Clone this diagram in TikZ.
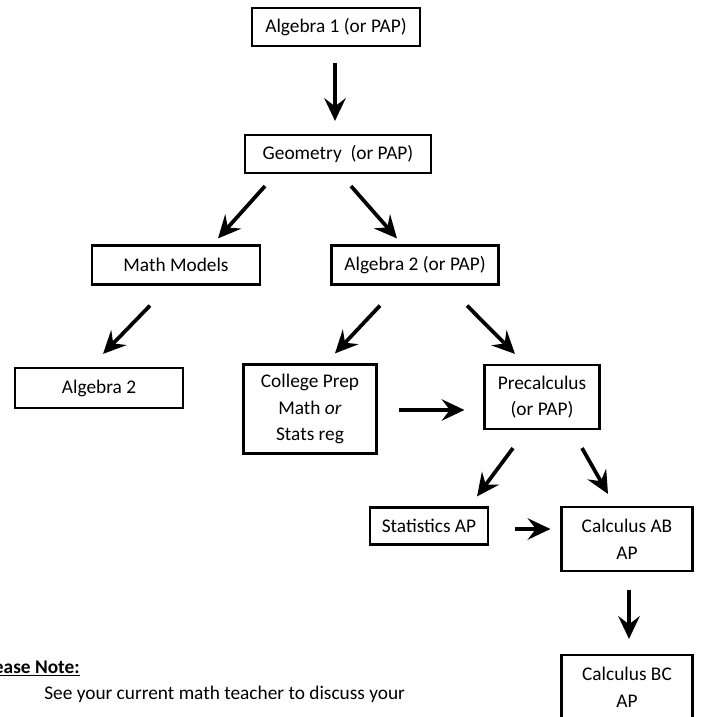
\documentclass[tikz,border=0pt]{standalone}
\usepackage{fontspec}
\setmainfont{Carlito}
\usetikzlibrary{arrows.meta,calc}
\tikzset{
  course/.style={draw,line width=1.6pt,align=center,inner sep=0pt,
    font=\fontsize{14.5}{20}\selectfont},
  flow/.style={line width=2.8pt,-{Stealth[length=17pt,width=16pt,inset=6pt]}},
}
\begin{document}
\begin{tikzpicture}[x=0.75pt,y=-0.75pt]
  \useasboundingbox (0,0) rectangle (700,717);
  % courses
  \node[course,minimum width=126pt,minimum height=28.5pt] (alg1) at (336,27) {Algebra 1 (or PAP)};
  \node[course,minimum width=139.5pt,minimum height=28.5pt] (geo) at (338,154) {Geometry\ \ (or PAP)};
  \node[course,minimum width=126pt,minimum height=29.25pt] (mm) at (176,265) {Math Models};
  \node[course,minimum width=125.25pt,minimum height=29.25pt] (alg2pap) at (415,265) {Algebra 2 (or PAP)};
  \node[course,minimum width=126pt,minimum height=30pt] (alg2) at (99,388) {Algebra 2};
  \node[course,minimum width=99.75pt,minimum height=66.75pt] (cprep) at (310,409) {College Prep\\Math \textit{or}\\Stats reg};
  \node[course,minimum width=86.25pt,minimum height=48pt] (precalc) at (542,397) {Precalculus\\(or PAP)};
  \node[course,minimum width=88.5pt,minimum height=27.75pt] (stat) at (429,526) {Statistics AP};
  \node[course,minimum width=98.25pt,minimum height=48pt] (calcab) at (627,539) {Calculus AB\\AP};
  \node[course,minimum width=98.25pt,minimum height=48pt] (calcbc) at (627,687) {Calculus BC\\AP};
  % arrows
  \draw[flow] ($(alg1.south)+(-1,16)$) -- ($(geo.north)+(-3,-13)$);
  \draw[flow] ($(geo.south)+(-73,12)$) -- ($(mm.north)+(42,-6)$);
  \draw[flow] ($(geo.south)+(13,12)$) -- ($(alg2pap.north)+(-18,-6)$);
  \draw[flow] ($(mm.south)+(-26,20)$) -- ($(alg2.north)+(4,-13)$);
  \draw[flow] ($(alg2pap.south)+(-35,20)$) -- ($(cprep.north)+(25,-10)$);
  \draw[flow] ($(alg2pap.south)+(52,20)$) -- ($(precalc.north)+(-27,-10)$);
  \draw[flow] ($(cprep.east)+(21,1)$) -- ($(precalc.west)+(-19,13)$);
  \draw[flow] ($(precalc.south)+(-29,18)$) -- ($(stat.north)+(48,-10)$);
  \draw[flow] ($(precalc.south)+(40,18)$) -- ($(calcab.north)+(-19,-12)$);
  \draw[flow] ($(stat.east)+(26,3)$) -- ($(calcab.west)+(-10,-10)$);
  \draw[flow] ($(calcab.south)+(2,18)$) -- ($(calcbc.north)+(2,-15)$);
  % note
  \node[anchor=base east,font=\fontsize{14.5}{20}\selectfont\bfseries,inner sep=0pt] (note) at (80,673) {\underline{Please Note:}};
  \node[anchor=base west,font=\fontsize{14.5}{20}\selectfont,inner sep=0pt] (see) at (44,699) {See your current math teacher to discuss your};
\end{tikzpicture}
\end{document}
